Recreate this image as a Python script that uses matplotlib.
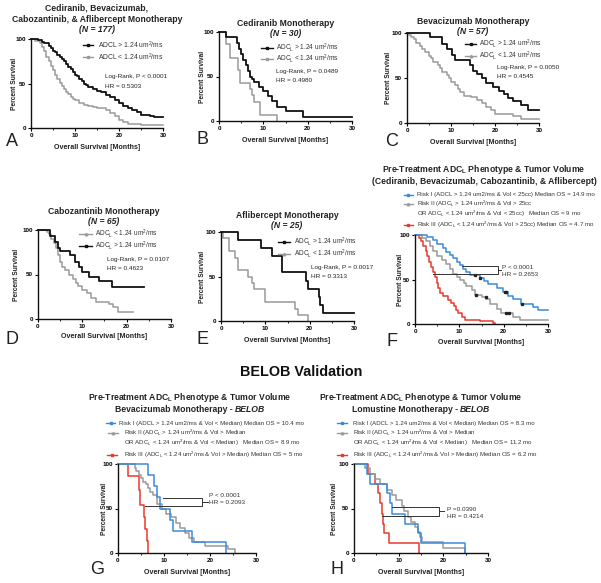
import numpy as np
import matplotlib
matplotlib.use('Agg')
import matplotlib.pyplot as plt
from matplotlib.lines import Line2D

plt.rcParams['font.family'] = ['Liberation Sans', 'DejaVu Sans']
plt.rcParams['mathtext.default'] = 'regular'

# ---- survival data (months, percent) ----
# A: pooled
a_hi_t = [0, 1.5, 2.5, 3, 4, 4.5, 5, 5.5, 6, 6.5, 7, 7.5, 8, 8.5, 9, 9.5, 10, 10.5, 11, 11.5, 12, 12.5, 13, 14, 15, 16, 17, 18, 19, 20, 21, 22, 23, 24, 25, 27, 28, 30]
a_hi_s = [100, 99, 97, 95, 92, 90, 87, 85, 82, 80, 77, 75, 72, 69, 66, 63, 60, 58, 55, 53, 50, 48, 46, 44, 42, 40, 37, 35, 32, 28, 25, 22, 20, 18, 15, 13, 12, 12]
a_lo_t = [0, 1, 2, 2.5, 3, 3.5, 4, 4.5, 5, 5.5, 6, 6.5, 7, 7.5, 8, 8.5, 9, 9.5, 10, 11, 12, 13, 14, 15, 16, 17, 18, 19, 20, 21, 22, 23, 25, 30]
a_lo_s = [100, 98, 95, 91, 86, 80, 75, 70, 65, 60, 55, 51, 47, 44, 41, 38, 35, 33, 31, 28, 26, 25, 24, 23, 22, 20, 17, 13, 9, 7, 5, 4, 3, 3]
# B: cediranib
b_hi_t = [0, 1.5, 4, 4.5, 5, 5.5, 6, 6.5, 7, 7.5, 8, 9, 10, 11, 12, 13, 15, 19, 30]
b_hi_s = [100, 94, 88, 81, 75, 69, 63, 56, 50, 47, 44, 38, 34, 28, 22, 16, 11, 5, 5]
b_lo_t = [0, 1.5, 2.5, 4.2, 4.8, 7, 7.5, 8, 9.2, 13]
b_lo_s = [100, 86, 71, 57, 43, 36, 29, 21, 7, 0]
# C: bevacizumab
c_hi_t = [0, 5.3, 8, 9, 10.3, 11, 14.3, 15, 16, 17, 18, 19.5, 21, 22, 23, 24, 26, 27.5, 30]
c_hi_s = [100, 96, 88, 82, 76, 70, 64, 58, 54, 50, 45, 40, 36, 32, 28, 24, 20, 15, 15]
c_lo_t = [0, 0.5, 1, 1.5, 2, 3, 3.5, 4, 5, 5.5, 6, 7, 7.5, 8, 9, 9.5, 10, 11, 11.5, 12, 13, 14.5, 16, 17, 18, 19, 20, 24, 26, 30]
c_lo_s = [100, 98, 96, 93, 89, 86, 82, 79, 75, 72, 68, 64, 61, 57, 53, 50, 46, 42, 38, 34, 30, 29, 26, 22, 18, 14, 10, 8, 5, 5]
# D: cabozantinib
d_lo_t = [0, 2, 2.5, 3, 3.5, 4, 4.5, 5, 5.5, 6, 7, 8, 8.5, 9, 10, 11, 12, 13, 16, 17, 18, 21.5]
d_lo_s = [100, 98, 95, 90, 85, 80, 72, 64, 58, 55, 50, 45, 40, 37, 33, 29, 24, 19, 17, 13, 8, 8]
d_hi_t = [0, 2.8, 3.9, 4.5, 5, 7.3, 8.4, 9.2, 9.9, 11.4, 13.7, 16.7, 24]
d_hi_s = [100, 93, 86, 80, 76, 72, 64, 58, 53, 47, 43, 36, 36]
# E: aflibercept
e_hi_t = [0, 3.9, 9, 11.4, 13.8, 19.2, 19.7, 22, 22.4, 23, 30]
e_hi_s = [100, 91, 82, 73, 55, 45, 36, 27, 18, 9, 9]
e_lo_t = [0, 0.5, 1.7, 3.2, 3.9, 6.2, 6.9, 7.4, 9.9, 16.7, 17.4, 19.7]
e_lo_s = [100, 93, 79, 71, 57, 50, 43, 36, 21, 14, 7, 0]
# F: risk groups, pooled
f_r1_t = [0, 2.6, 4.1, 4.9, 6.4, 7, 7.9, 8.6, 9.4, 10.2, 10.9, 11.6, 12.4, 14.6, 15.6, 16.5, 18.4, 19.9, 21, 22.1, 24, 26.6, 27.7, 30]
f_r1_s = [100, 98, 94, 90, 85, 81, 78, 74, 70, 66, 62, 58, 55, 52, 48, 45, 40, 36, 32, 28, 22, 19, 16, 16]
f_r2_t = [0, 1.5, 2.5, 3.4, 4, 4.9, 6, 7.1, 7.9, 8.6, 9.4, 10.1, 11, 11.6, 12.8, 13.5, 15, 16.1, 16.9, 18.4, 19.5, 22.1, 23.6, 30]
f_r2_s = [100, 97, 93, 88, 82, 76, 72, 67, 62, 56, 53, 50, 46, 43, 38, 33, 30, 28, 22, 17, 12, 8, 5, 5]
f_r3_t = [0, 1, 1.4, 1.9, 2.4, 2.8, 3.2, 3.6, 4, 4.4, 4.9, 5.3, 5.7, 6.4, 7.5, 8.2, 8.7, 9.2, 9.7, 10.5, 11.2, 14.6, 17.6, 18]
f_r3_s = [100, 97, 93, 88, 82, 76, 70, 64, 58, 53, 46, 40, 35, 31, 27, 24, 20, 16, 12, 8, 5, 3, 1.5, 0]
f_r1_cens = [13.5, 14.6, 20.2, 20.6, 24.2]
f_r2_cens = [13.7, 16.0, 20.6, 21.3]
# G: BELOB bevacizumab
g_r1_t = [0, 6.5, 7.8, 8.4, 9.1, 11.3, 12, 16, 23.4]
g_r1_s = [100, 87.5, 75, 62.5, 50, 37.5, 25, 12.5, 0]
g_r2_t = [0, 3.6, 4, 4.5, 5, 5.5, 6, 6.5, 7, 7.5, 8.5, 9.5, 10.5, 11.5, 12.5, 13.5, 14.5, 15.5, 16.5, 19, 24, 25.5]
g_r2_s = [100, 96, 92, 88, 84, 80, 77, 73, 69, 65, 55, 50, 44, 40, 34, 28, 22, 17, 12, 8, 4, 0]
g_r3_t = [0, 2.2, 4.5, 4.7, 5.6, 5.9, 6.2, 6.5]
g_r3_s = [100, 86, 71, 54, 40, 27, 14, 0]
# H: BELOB lomustine
h_r1_t = [0, 2.8, 3.5, 7.3, 8, 8.4, 11.4, 14.4, 14.9, 24.9]
h_r1_s = [100, 89, 78, 67, 56, 44, 33, 22, 11, 0]
h_r2_t = [0, 2.4, 3.5, 4.6, 5.8, 7.4, 8.4, 9.5, 10.7, 11.2, 12, 12.8, 13.7, 14.3, 14.8, 15.2, 19.9, 24.9]
h_r2_s = [100, 95, 89, 83, 77, 71, 65, 59, 53, 47, 41, 35, 29, 24, 18, 12, 6, 0]
h_r3_t = [0, 3.2, 4.6, 5.4, 5.8, 6.2, 6.5, 6.8, 7.9, 14.6]
h_r3_s = [100, 89, 78, 67, 56, 44, 33, 22, 11, 0]

BLACK = '#111111'
GRAY = '#9a9a9a'
BLUE = '#3b8ad8'
RED = '#e8392c'

W, H = 601, 583
fig = plt.figure(figsize=(6.01, 5.83), dpi=100)
rend = fig.canvas.get_renderer()


def fx(x):
    return x / W


def fy(y):
    return 1 - y / H


def txt(x, y, s, size=4.6, weight='normal', ha='left', color='#222222', style='normal', rot=0):
    return fig.text(fx(x), fy(y), s, fontsize=size, fontweight=weight, ha=ha, va='center',
                    color=color, style=style, rotation=rot)


def two_part(xc, y, a, b, size):
    # bold text followed by bold-italic text, centred as one line
    t1 = txt(0, y, a, size, 'bold')
    t2 = txt(0, y, b, size, 'bold', style='italic')
    w1 = t1.get_window_extent(rend).width
    w2 = t2.get_window_extent(rend).width
    x0 = xc - (w1 + w2) / 2
    t1.set_x(fx(x0))
    t2.set_x(fx(x0 + w1))


def leg(x0, x1, y, xt, s, color, size=4.7, marker='s', lw=1.0):
    fig.add_artist(Line2D([fx(x0), fx(x1)], [fy(y), fy(y)], color=color, lw=lw,
                          transform=fig.transFigure))
    fig.add_artist(Line2D([fx((x0 + x1) / 2)], [fy(y)], color=color, marker=marker, ms=1.8,
                          transform=fig.transFigure))
    txt(xt, y, s, size=size, color='#333333')


def make_ax(l, t, r, b, ylab_x, xlab_y):
    ax = fig.add_axes([fx(l), fy(b), (r - l) / W, (b - t) / H])
    ax.set_xlim(0, 30)
    ax.set_ylim(0, 100)
    for sp in ['top', 'right']:
        ax.spines[sp].set_visible(False)
    for sp in ['left', 'bottom']:
        ax.spines[sp].set_linewidth(1.0)
        ax.spines[sp].set_color('#111111')
    ax.set_xticks([0, 10, 20, 30])
    ax.set_xticks([5, 15, 25], minor=True)
    ax.set_yticks([0, 50, 100])
    ax.tick_params(length=2.5, width=0.8, pad=1, labelsize=4.5)
    ax.tick_params(which='minor', length=1.5, width=0.6)
    for lab in ax.get_xticklabels() + ax.get_yticklabels():
        lab.set_fontweight('bold')
    txt(ylab_x, (t + b) / 2, 'Percent Survival', size=4.8, weight='bold', ha='center', rot=90)
    txt((l + r) / 2, xlab_y, 'Overall Survival [Months]', size=5.1, weight='bold', ha='center')
    return ax


def km(ax, t, s, color, lw=1.1):
    ax.step(t, s, where='post', color=color, lw=lw, clip_on=False)


def cens(ax, t, s, times, color):
    idx = np.searchsorted(t, times, side='right') - 1
    ax.plot(times, np.array(s)[idx], 's', color=color, ms=1.4, clip_on=False)


def bracket(ax, xa, ya, xb, yb, xr, xt):
    ax.plot([xa, xr, xr, xb], [ya, ya, yb, yb], color='#333333', lw=0.7, clip_on=False)
    ym = (ya + yb) / 2
    ax.plot([xr, xt], [ym, ym], color='#333333', lw=0.7, clip_on=False)


hi = r'ADC$_L$ > 1.24 um$^2$/ms'
lo = r'ADC$_L$ < 1.24 um$^2$/ms'
TS = 6.2   # title size
RS = 4.4   # risk legend size

# ---- A ----
ax = make_ax(31, 39, 163, 128, 15, 147)
km(ax, a_lo_t, a_lo_s, GRAY)
km(ax, a_hi_t, a_hi_s, BLACK, 1.3)
txt(97, 8, 'Cediranib, Bevacizumab,', TS, 'bold', 'center')
txt(97, 19, 'Cabozantinib, & Aflibercept Monotherapy', TS, 'bold', 'center')
txt(97, 30, '(N = 177)', TS, 'bold', 'center', style='italic')
leg(83, 93, 45, 98, r'ADCL > 1.24 um$^2$/ms', BLACK, 4.9)
leg(83, 93, 57, 98, r'ADCL < 1.24 um$^2$/ms', GRAY, 4.9)
txt(105, 76, 'Log-Rank, P < 0.0001', 4.6)
txt(105, 86, 'HR = 0.5303', 4.6)
txt(12, 142, 'A', 13, ha='center')

# ---- B ----
ax = make_ax(219, 32, 352, 121, 202, 140)
km(ax, b_lo_t, b_lo_s, GRAY)
km(ax, b_hi_t, b_hi_s, BLACK, 1.3)
txt(286, 23, 'Cediranib Monotherapy', TS, 'bold', 'center')
txt(286, 33, '(N = 30)', TS, 'bold', 'center', style='italic')
leg(261, 273, 48, 276, hi, BLACK)
leg(261, 273, 59, 276, lo, GRAY)
txt(276, 72, 'Log-Rank, P = 0.0489', 4.6)
txt(276, 81, 'HR = 0.4980', 4.6)
txt(202, 140, 'B', 13, ha='center')

# ---- C ----
ax = make_ax(407, 33, 539, 123, 388, 142)
km(ax, c_lo_t, c_lo_s, GRAY)
km(ax, c_hi_t, c_hi_s, BLACK, 1.3)
txt(473, 21, 'Bevacizumab Monotherapy', TS, 'bold', 'center')
txt(473, 31, '(N = 57)', TS, 'bold', 'center', style='italic')
leg(465, 476, 44, 479, hi, BLACK)
leg(465, 476, 56, 479, lo, GRAY, marker='^')
txt(497, 67, 'Log-Rank, P = 0.0050', 4.6)
txt(497, 77, 'HR = 0.4545', 4.6)
txt(392, 142, 'C', 13, ha='center')

# ---- D ----
ax = make_ax(38, 230, 171, 319, 17, 337)
km(ax, d_lo_t, d_lo_s, GRAY)
km(ax, d_hi_t, d_hi_s, BLACK, 1.3)
txt(104, 211, 'Cabozantinib Monotherapy', TS, 'bold', 'center')
txt(104, 221, '(N = 65)', TS, 'bold', 'center', style='italic')
leg(79, 92, 234, 95, lo, GRAY, marker='^')
leg(79, 92, 246, 95, hi, BLACK)
txt(107, 260, 'Log-Rank, P = 0.0107', 4.6)
txt(107, 269, 'HR = 0.4623', 4.6)
txt(12, 340, 'D', 13, ha='center')

# ---- E ----
ax = make_ax(221, 232, 354, 321, 202, 340)
km(ax, e_lo_t, e_lo_s, GRAY)
km(ax, e_hi_t, e_hi_s, BLACK, 1.3)
txt(287, 216, 'Aflibercept Monotherapy', TS, 'bold', 'center')
txt(287, 226, '(N = 25)', TS, 'bold', 'center', style='italic')
leg(278, 290, 242, 294, hi, BLACK)
leg(278, 290, 254, 294, lo, GRAY, marker='^')
txt(311, 268, 'Log-Rank, P = 0.0017', 4.6)
txt(311, 277, 'HR = 0.3313', 4.6)
txt(202, 340, 'E', 13, ha='center')

# ---- F ----
ax = make_ax(415, 235, 548, 324, 401, 343)
km(ax, f_r3_t, f_r3_s, RED)
km(ax, f_r2_t, f_r2_s, GRAY)
km(ax, f_r1_t, f_r1_s, BLUE)
cens(ax, f_r1_t, f_r1_s, f_r1_cens, '#222222')
cens(ax, f_r2_t, f_r2_s, f_r2_cens, '#222222')
bracket(ax, 10.5, 65.5, 4.1, 56, 18.75, 19.4)
ax.text(19.6, 64, 'P < 0.0001', fontsize=4.6, va='center', color='#333333')
ax.text(19.6, 56, 'HR = 0.2653', fontsize=4.6, va='center', color='#333333')
txt(484, 170, r'Pre-Treatment ADC$_L$ Phenotype & Tumor Volume', TS, 'bold', 'center')
txt(484, 181, '(Cediranib, Bevacizumab, Cabozantinib, & Aflibercept)', TS, 'bold', 'center')
leg(404, 413, 195, 417, 'Risk I (ADCL > 1.24 um2/ms & Vol < 25cc) Median OS = 14.9 mo', BLUE, RS)
leg(404, 413, 204, 417, r'Risk II (ADC$_L$ > 1.24 um$^2$/ms & Vol > 25cc', GRAY, RS, marker='^')
txt(417, 214, r'OR ADC$_L$ < 1.24 um$^2$/ms & Vol < 25cc)   Median OS = 9 mo', RS, color='#333333')
leg(404, 413, 225, 417, r'Risk III (ADC$_L$ < 1.24 um$^2$/ms & Vol > 25cc) Median OS = 4.7 mo', RED, RS)
txt(392, 341, 'F', 13, ha='center')

# ---- BELOB ----
txt(301, 372, 'BELOB Validation', 10.4, 'bold', 'center', color='#111111')

# ---- G ----
ax = make_ax(118, 464, 256, 553, 104, 572)
km(ax, g_r3_t, g_r3_s, RED)
km(ax, g_r2_t, g_r2_s, GRAY)
km(ax, g_r1_t, g_r1_s, BLUE)
bracket(ax, 9.8, 61.5, 5.8, 53, 18.2, 19.6)
ax.text(19.8, 65, 'P < 0.0001', fontsize=4.6, va='center', color='#333333')
ax.text(19.8, 57, 'HR = 0.2093', fontsize=4.6, va='center', color='#333333')
txt(190, 398, r'Pre-Treatment ADC$_L$ Phenotype & Tumor Volume', TS, 'bold', 'center')
two_part(190, 410, 'Bevacizumab Monotherapy - ', 'BELOB', TS)
leg(106, 115, 423, 119, 'Risk I (ADCL > 1.24 um2/ms & Vol < Median) Median OS = 10.4 mo', BLUE, RS)
leg(108, 118, 433, 124, r'Risk II (ADC$_L$ > 1.24 um$^2$/ms & Vol > Median', GRAY, RS, marker='^')
txt(124, 443, r'OR ADC$_L$ < 1.24 um$^2$/ms & Vol < Median)   Median OS = 8.9 mo', RS, color='#333333')
leg(107, 117, 455, 124, r'Risk III (ADC$_L$ < 1.24 um$^2$/ms & Vol > Median) Median OS = 5 mo', RED, RS)
txt(97, 570, 'G', 13, ha='center')

# ---- H ----
ax = make_ax(354, 464, 488, 553, 335, 572)
km(ax, h_r3_t, h_r3_s, RED)
km(ax, h_r2_t, h_r2_s, GRAY)
km(ax, h_r1_t, h_r1_s, BLUE)
bracket(ax, 8.4, 52, 6.2, 41.6, 19.1, 20.2)
ax.text(20.8, 49, 'P =0.0390', fontsize=4.6, va='center', color='#333333')
ax.text(20.8, 41, 'HR = 0.4214', fontsize=4.6, va='center', color='#333333')
txt(421, 398, r'Pre-Treatment ADC$_L$ Phenotype & Tumor Volume', TS, 'bold', 'center')
two_part(421, 410, 'Lomustine Monotherapy - ', 'BELOB', TS)
leg(337, 347, 423, 353, 'Risk I (ADCL > 1.24 um2/ms & Vol < Median) Median OS = 8.3 mo', BLUE, RS)
leg(337, 347, 433, 353, r'Risk II (ADC$_L$ > 1.24 um$^2$/ms & Vol > Median', GRAY, RS, marker='^')
txt(353, 443, r'OR ADC$_L$ < 1.24 um$^2$/ms & Vol < Median)   Median OS = 11.2 mo', RS, color='#333333')
leg(337, 347, 455, 353, r'Risk III (ADC$_L$ < 1.24 um$^2$/ms & Vol > Median) Median OS = 6.2 mo', RED, RS)
txt(337, 570, 'H', 13, ha='center')

fig.savefig('out.png', dpi=100)
